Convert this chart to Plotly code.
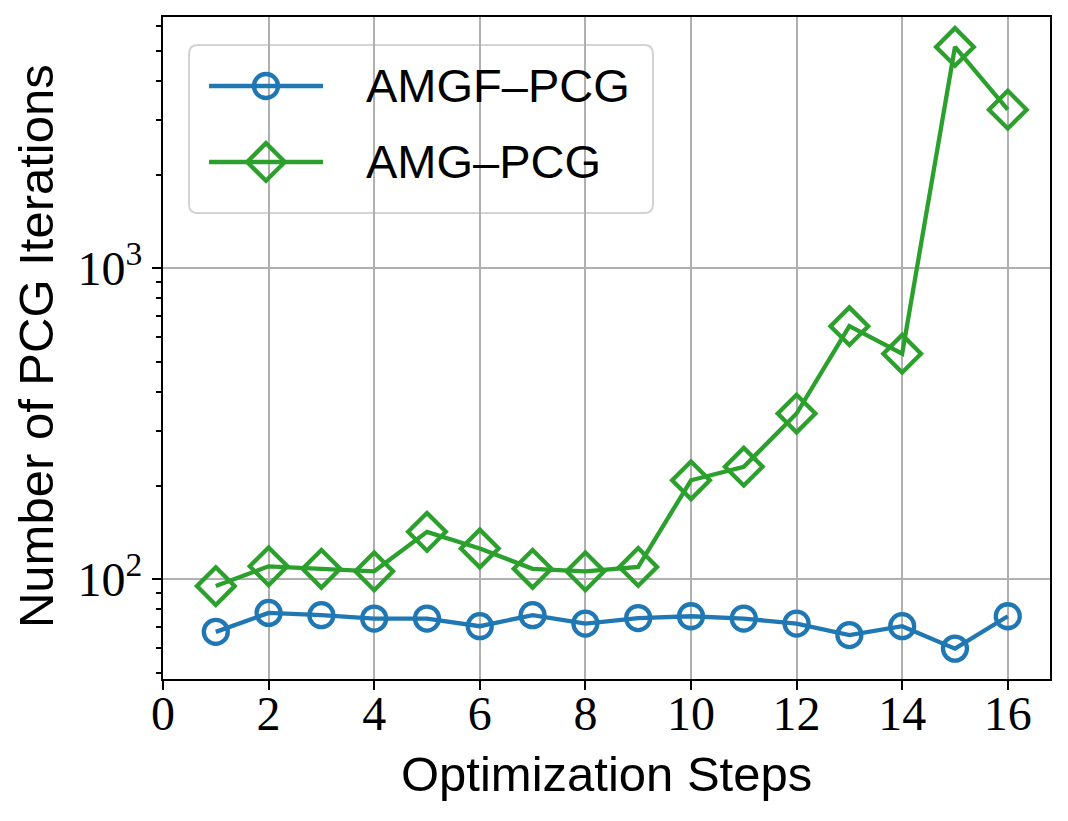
import plotly.graph_objects as go

steps = list(range(1, 17))
amgf_pcg = [67.7, 77.9, 76.6, 74.7, 74.7, 70.6, 76.6, 72.0, 75.0, 76.0, 74.7, 72.0, 66.1, 70.6, 59.8, 76.0]
amg_pcg = [95, 110, 108, 106, 142, 125.5, 108, 106, 109.5, 208, 230, 341, 651, 531, 5148, 3236]

series_names = ["AMGF–PCG", "AMG–PCG"]
series_colors = ["#1f77b4", "#2ca02c"]
series_symbols = ["circle-open", "diamond-open"]
series_sizes = [24, 29]
x_ticks = [0, 2, 4, 6, 8, 10, 12, 14, 16]
y_major = [100, 1000]
y_major_text = ["10<sup>2</sup>", "10<sup>3</sup>"]
y_minor = [50, 60, 70, 80, 90, 200, 300, 400, 500, 600, 700, 800, 900,
           2000, 3000, 4000, 5000, 6000]

SANS = "Liberation Sans, Arial, sans-serif"
SERIF = "Liberation Serif, Times New Roman, serif"
LW = 4.3

fig = go.Figure()
for name, ys, col, sym, sz in zip(series_names, [amgf_pcg, amg_pcg], series_colors,
                                  series_symbols, series_sizes):
    fig.add_trace(go.Scatter(
        x=steps, y=ys, name=name, mode="lines+markers", showlegend=False,
        line=dict(color=col, width=LW),
        marker=dict(symbol=sym, size=sz, color=col, line=dict(width=LW, color=col)),
    ))

# ---- custom legend (matplotlib-style) in an overlay unit axis ----
leg_x0, leg_x1, leg_y0, leg_y1 = 0.0293, 0.5524, 0.7039, 0.9577
row_y = [0.8958, 0.7810]
line_x = [0.0519, 0.1804]
mark_x = 0.1161
text_x = 0.227
rx, ry = 0.010, 0.013
box_path = (f"M{leg_x0+rx},{leg_y0} L{leg_x1-rx},{leg_y0} Q{leg_x1},{leg_y0} {leg_x1},{leg_y0+ry} "
            f"L{leg_x1},{leg_y1-ry} Q{leg_x1},{leg_y1} {leg_x1-rx},{leg_y1} "
            f"L{leg_x0+rx},{leg_y1} Q{leg_x0},{leg_y1} {leg_x0},{leg_y1-ry} "
            f"L{leg_x0},{leg_y0+ry} Q{leg_x0},{leg_y0} {leg_x0+rx},{leg_y0} Z")
fig.add_shape(type="path", path=box_path, xref="paper", yref="paper", layer="between",
              fillcolor="rgba(255,255,255,0.8)", line=dict(color="#d3d3d3", width=2))
for name, col, sym, sz, ry_ in zip(series_names, series_colors, series_symbols, series_sizes, row_y):
    fig.add_trace(go.Scatter(
        x=line_x, y=[ry_, ry_], xaxis="x2", yaxis="y2", mode="lines", showlegend=False,
        hoverinfo="skip", line=dict(color=col, width=LW),
    ))
    fig.add_trace(go.Scatter(
        x=[mark_x], y=[ry_], xaxis="x2", yaxis="y2", mode="markers", showlegend=False,
        hoverinfo="skip",
        marker=dict(symbol=sym, size=sz, color=col, line=dict(width=LW, color=col)),
    ))
    fig.add_annotation(x=text_x, y=ry_, xref="paper", yref="paper", text=name,
                       showarrow=False, xanchor="left", yanchor="middle",
                       font=dict(family=SANS, size=47, color="black"))

# axis titles
fig.add_annotation(x=0.5, y=0, xref="paper", yref="paper", text="Optimization Steps",
                   showarrow=False, xanchor="center", yanchor="top", yshift=-66,
                   font=dict(family=SANS, size=49, color="black"))
fig.add_annotation(x=0, y=0.503, xref="paper", yref="paper", text="Number of PCG Iterations",
                   showarrow=False, xanchor="center", yanchor="middle", xshift=-127, textangle=-90,
                   font=dict(family=SANS, size=49, color="black"))

# page body has an 8px margin: size/offset figure so the plot area lands where intended
fig.update_layout(
    width=1060, height=813,
    paper_bgcolor="white", plot_bgcolor="white",
    margin=dict(l=155, r=18, t=9, b=142),
    showlegend=False,
    xaxis2=dict(overlaying="x", range=[0, 1], visible=False, fixedrange=True),
    yaxis2=dict(overlaying="y", range=[0, 1], visible=False, fixedrange=True),
)
fig.update_layout(xaxis=dict(
    range=[0, 16.8], tickvals=x_ticks, ticktext=[str(v) for v in x_ticks],
    ticks="outside", ticklen=9, tickwidth=2, tickcolor="black", automargin=False,
    ticklabelstandoff=-18,
    showline=True, linecolor="black", linewidth=2, mirror=True,
    showgrid=True, gridcolor="#b0b0b0", gridwidth=1.8, zeroline=False,
    tickfont=dict(family=SERIF, size=48, color="black"),
))
fig.update_layout(yaxis=dict(
    type="log", range=[1.679, 3.808],
    tickvals=y_major, ticktext=y_major_text, automargin=False,
    ticks="outside", ticklen=9, tickwidth=2, tickcolor="black",
    showline=True, linecolor="black", linewidth=2, mirror=True,
    showgrid=True, gridcolor="#b0b0b0", gridwidth=1.8, zeroline=False,
    minor=dict(tickvals=y_minor, ticks="outside", ticklen=5, tickwidth=1.5,
               tickcolor="black", showgrid=False),
    tickfont=dict(family=SERIF, size=48, color="black"),
))

fig.write_html("out.html")
